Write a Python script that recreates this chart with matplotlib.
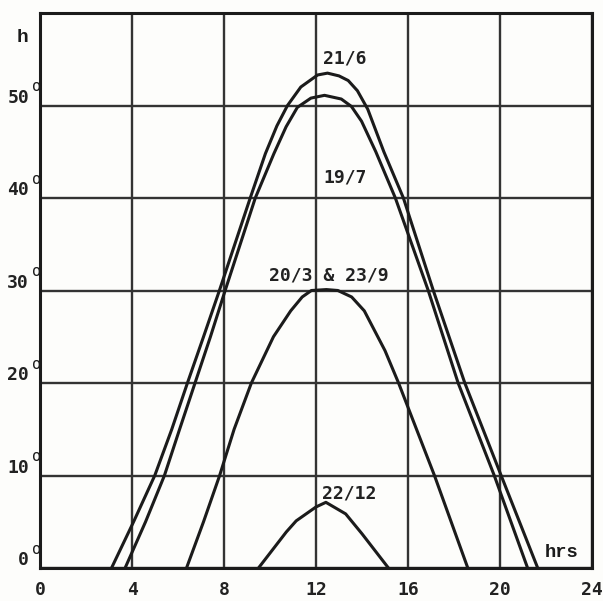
import matplotlib
matplotlib.use("Agg")
import matplotlib.pyplot as plt

# ---- data ----
hours_jun21 = [3.11, 4.07, 4.99, 5.73, 6.41, 7.11, 7.8, 9.14, 9.8, 10.3, 10.76, 11.34, 12.07, 12.5, 13.0, 13.4, 13.8, 14.25, 14.95, 15.8, 17.1, 18.47, 20.05, 21.64]
alt_jun21 = [0, 5, 10, 15, 20, 25, 30, 40, 44.8, 47.8, 50, 52.0, 53.3, 53.5, 53.2, 52.7, 51.6, 49.6, 45, 40, 30, 20, 10, 0]

hours_jul19 = [3.7, 4.59, 5.41, 6.07, 6.74, 7.41, 8.05, 9.36, 10.17, 10.7, 11.19, 11.78, 12.37, 13.1, 13.54, 13.98, 14.6, 15.45, 16.88, 18.18, 19.75, 21.2]
alt_jul19 = [0, 5, 10, 15, 20, 25, 30, 40, 44.8, 47.7, 49.8, 50.8, 51.1, 50.7, 49.9, 48.3, 45, 40, 30, 20, 10, 0]

hours_equinox = [6.37, 7.11, 7.81, 8.44, 9.19, 10.15, 10.9, 11.4, 11.8, 12.45, 12.95, 13.55, 14.1, 15.0, 15.59, 17.15, 18.6]
alt_equinox = [0, 5, 10, 15, 20, 25, 27.8, 29.3, 30.0, 30.1, 30.0, 29.3, 27.8, 23.5, 20, 10, 0]

hours_dec22 = [9.5, 10.71, 11.14, 12.0, 12.43, 13.29, 14.0, 15.15]
alt_dec22 = [0, 3.9, 5.1, 6.6, 7.1, 5.85, 3.7, 0]

curve_labels = ["21/6", "19/7", "20/3 & 23/9", "22/12"]
label_x = [13.25, 13.25, 12.55, 13.45]
label_y = [55.1, 42.2, 31.6, 8.1]

x_ticks = [0, 4, 8, 12, 16, 20, 24]
y_ticks = [0, 10, 20, 30, 40, 50]

# ---- styling ----
INK = "#1b1b1b"
GRID = "#333333"
FONT = "DejaVu Sans Mono"
PT = 1 / 1.389  # points per pixel at 100 dpi

fig = plt.figure(figsize=(6.03, 6.01), dpi=100, facecolor="#fdfdfb")
W, H = 603, 601
ax = fig.add_axes([40 / W, 33 / H, 552 / W, 555 / H])
ax.set_facecolor("#fdfdfb")
ax.set_xlim(0, 24)
ax.set_ylim(0, 60)

ax.set_xticks(x_ticks)
ax.set_yticks(y_ticks)
ax.tick_params(length=0, labelbottom=False, labelleft=False)
ax.grid(True, color=GRID, lw=1.7)
ax.set_axisbelow(True)
for s in ax.spines.values():
    s.set_color(INK)
    s.set_linewidth(2.2)

for hx, ay in [(hours_jun21, alt_jun21), (hours_jul19, alt_jul19),
               (hours_equinox, alt_equinox), (hours_dec22, alt_dec22)]:
    ax.plot(hx, ay, color=INK, lw=2.2, solid_joinstyle="round", solid_capstyle="butt", zorder=3)

txt = dict(fontsize=13, family=FONT, weight="bold", color="#222222")

for lab, lx, ly in zip(curve_labels, label_x, label_y):
    ax.text(lx, ly, lab, ha="center", va="center", zorder=4, **txt)

ax.text(22.7, 1.65, "hrs", fontsize=13.5, family="Liberation Mono", weight="bold",
        color=INK, ha="center", va="center")

# x tick labels
xt = ax.get_xaxis_transform()
for v in x_ticks:
    ax.annotate(str(v), xy=(v, 0), xycoords=xt, xytext=(0, -22 * PT),
                textcoords="offset points", ha="center", va="center",
                annotation_clip=False, **txt)

# y tick labels with a small raised "o"
yt = ax.get_yaxis_transform()
for v in y_ticks:
    ax.annotate(str(v), xy=(0, v), xycoords=yt, xytext=(-11 * PT, 8 * PT),
                textcoords="offset points", ha="right", va="center",
                annotation_clip=False, **txt)
    ax.annotate("o", xy=(0, v), xycoords=yt, xytext=(-3 * PT, 19 * PT),
                textcoords="offset points", ha="center", va="center",
                fontsize=11, family=FONT, color=INK, annotation_clip=False,
                zorder=5)

fig.text(23 / W, 1 - 38 / H, "h", fontsize=14, family="Liberation Mono", weight="bold",
         color=INK, ha="center", va="center")

fig.savefig("out.png", dpi=100, facecolor=fig.get_facecolor())
